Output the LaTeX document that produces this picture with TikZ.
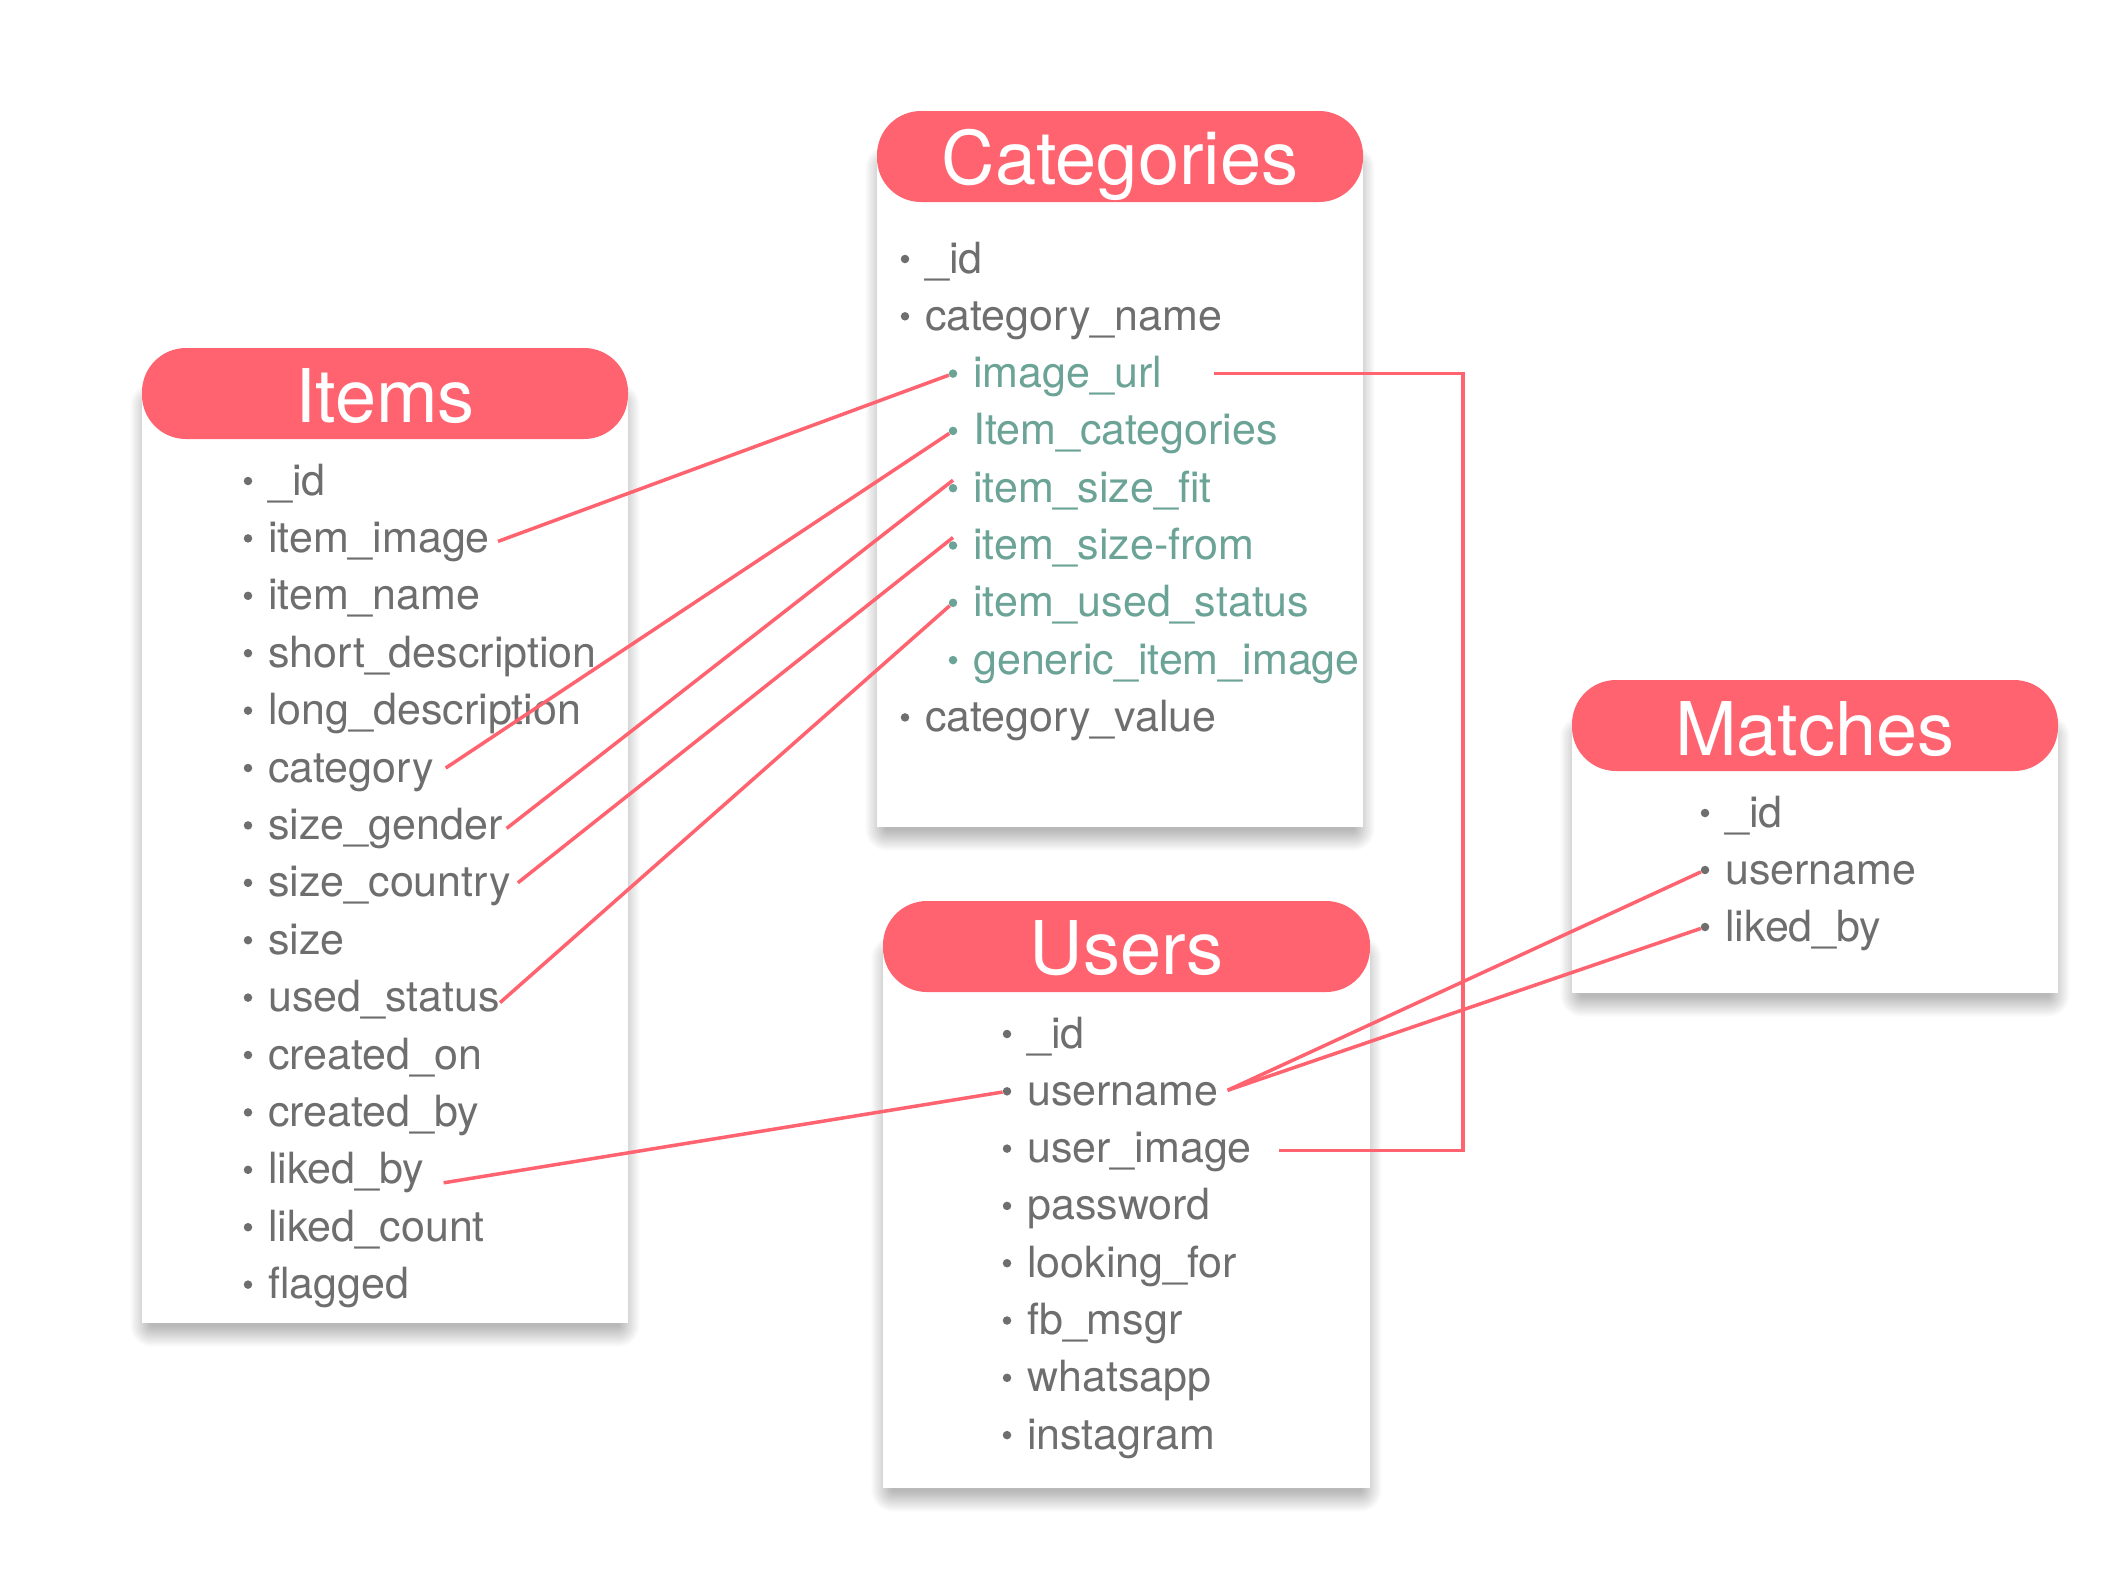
\documentclass[tikz,border=0pt]{standalone}
\usepackage{fontspec}
\setmainfont{TeX Gyre Heros}
\usetikzlibrary{calc}
\definecolor{hdrc}{HTML}{FF6370}
\definecolor{fldc}{HTML}{6E6E6E}
\definecolor{tealc}{HTML}{6BA396}
\definecolor{lnkc}{HTML}{FF6370}
\newcommand\fieldrow[5]{%
  \node[dot, fill=#5] (#1d) at (#2,#3-14) {};
  \node[fld, text=#5] (#1) at (#2+20,#3) {#4};
}
\newcommand\softshadow[1]{%
  \foreach \e in {1,...,18}{%
    \fill[black, opacity=0.015, rounded corners=1.2*\e pt]
      ($(#1.north west)+(10-1.2*\e,12-1.2*\e)$) rectangle ($(#1.south east)+(-10+1.2*\e,2+1.2*\e)$);}%
}
\begin{document}
\begin{tikzpicture}[x=1pt,y=-1pt,
  body/.style={fill=white, draw=none, outer sep=0pt, inner sep=0pt, anchor=north west},
  hdr/.style={fill=hdrc, draw=none, outer sep=0pt, inner sep=0pt, anchor=north west,
    rounded corners=44pt, minimum height=91pt},
  ttl/.style={text=white, font=\fontsize{74}{80}\selectfont, anchor=base, inner sep=0pt},
  fld/.style={font=\fontsize{43}{50}\selectfont, anchor=base west, inner sep=0pt},
  dot/.style={circle, draw=none, inner sep=0pt, minimum size=8.5pt},
  link/.style={draw=lnkc, line width=3.5pt}
]
\useasboundingbox[fill=white] (0,0) rectangle (2124,1580);

% ---------- boxes (bodies with shadows) ----------
\node[body, minimum width=486pt, minimum height=930pt] (itemsB) at (142,393) {};
\node[body, minimum width=486pt, minimum height=671pt] (catB) at (877,156) {};
\node[body, minimum width=487pt, minimum height=542pt] (usersB) at (883,946) {};
\node[body, minimum width=486pt, minimum height=268pt] (matchB) at (1572,725) {};
\softshadow{itemsB}
\softshadow{catB}
\softshadow{usersB}
\softshadow{matchB}
\fill[white] (itemsB.north west) rectangle (itemsB.south east);
\fill[white] (catB.north west) rectangle (catB.south east);
\fill[white] (usersB.north west) rectangle (usersB.south east);
\fill[white] (matchB.north west) rectangle (matchB.south east);

% ---------- Items ----------
\node[hdr, minimum width=486pt] (itemsH) at (142,348) {};
\node[ttl] (itemsT) at (385,422) {Items};
\foreach \n/\t [count=\k from 0] in {iid/\_id, iimage/item\_image, iname/item\_name,
   ishort/short\_description, ilong/long\_description, icat/category,
   igender/size\_gender, icountry/size\_country, isize/size, iused/used\_status,
   icron/created\_on, icrby/created\_by, iliked/liked\_by, ilcount/liked\_count,
   iflag/flagged}
  {\fieldrow{\n}{248}{495+57.4*\k}{\t}{fldc}}

% ---------- Categories ----------
\node[hdr, minimum width=486pt] (catH) at (877,111) {};
\node[ttl] (catT) at (1120,184) {Categories};
\fieldrow{cid}{905}{273}{\_id}{fldc}
\fieldrow{cname}{905}{330.3}{category\_name}{fldc}
\fieldrow{curl}{953}{387.6}{image\_url}{tealc}
\fieldrow{cicat}{953}{444.9}{Item\_categories}{tealc}
\fieldrow{cfit}{953}{502.2}{item\_size\_fit}{tealc}
\fieldrow{cfrom}{953}{559.5}{item\_size-from}{tealc}
\fieldrow{cused}{953}{616.8}{item\_used\_status}{tealc}
\fieldrow{cgen}{953}{674.1}{generic\_item\_image}{tealc}
\fieldrow{cval}{905}{731.4}{category\_value}{fldc}

% ---------- Users ----------
\node[hdr, minimum width=487pt] (usersH) at (883,901) {};
\node[ttl] (usersT) at (1126.5,974.5) {Users};
\foreach \n/\t [count=\k from 0] in {uid/\_id, uusername/username, uimage/user\_image,
   upass/password, ulook/looking\_for, ufb/fb\_msgr, uwa/whatsapp, uinsta/instagram}
  {\fieldrow{\n}{1007}{1048+57.3*\k}{\t}{fldc}}

% ---------- Matches ----------
\node[hdr, minimum width=486pt] (matchH) at (1572,680) {};
\node[ttl] (matchT) at (1815,755) {Matches};
\fieldrow{mid}{1705}{827}{\_id}{fldc}
\fieldrow{musername}{1705}{884}{username}{fldc}
\fieldrow{mliked}{1705}{941}{liked\_by}{fldc}

% ---------- Connectors ----------
\draw[link] ($(iimage.base east)+(8,-11)$) -- (curld);
\draw[link] ($(icat.base east)+(12,-14)$) -- (cicatd);
\draw[link] ($(igender.base east)+(4,-11)$) -- ($(cfitd)+(0,-8)$);
\draw[link] ($(icountry.base east)+(7,-14)$) -- ($(cfromd)+(0,-8)$);
\draw[link] ($(iused.base east)+(0,-9)$) -- (cusedd);
\draw[link] ($(iliked.base east)+(19,-1)$) -- (uusernamed);
\coordinate (ustart) at ($(uusername.base east)+(9,-15)$);
\draw[link] (ustart) -- (musernamed);
\draw[link] (ustart) -- (mlikedd);
\coordinate (elbow) at (1463,0);
\coordinate (urlend) at ($(curl.base east)+(52,-14)$);
\coordinate (uimgend) at ($(uimage.base east)+(27,-12)$);
\draw[link] (urlend) -- (urlend -| elbow) -- (uimgend -| elbow) -- (uimgend);
\end{tikzpicture}
\end{document}
